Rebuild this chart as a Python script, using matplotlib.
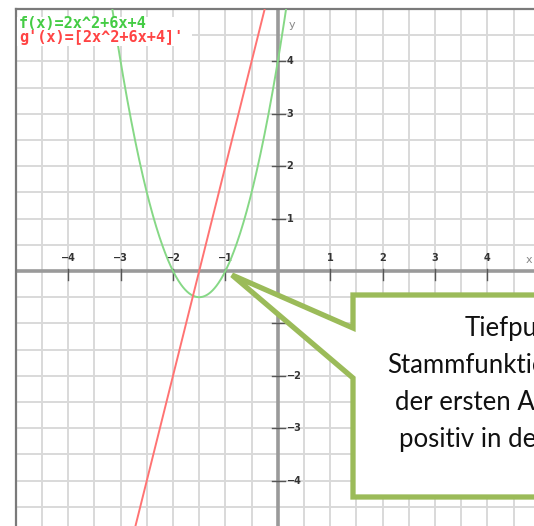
import numpy as np
import matplotlib
matplotlib.use("Agg")
import matplotlib.pyplot as plt
from matplotlib.patches import Polygon, Rectangle

# Function f(x) = 2x^2 + 6x + 4 and its derivative g(x) = 4x + 6
f_coeffs = [2, 6, 4]
g_coeffs = [4, 6]
f_label = "f(x)=2x^2+6x+4"
g_label = "g'(x)=[2x^2+6x+4]'"
x_ticks = [-4, -3, -2, -1, 1, 2, 3, 4]
y_ticks = [-4, -3, -2, -1, 1, 2, 3, 4]
callout_lines = ["Tiefpunkt", "Stammfunktion", "der ersten Ableitung", "positiv in der"]

W, H = 534, 526
fig = plt.figure(figsize=(W / 100, H / 100), dpi=100)
fig.patch.set_facecolor("white")

def fx(px):
    return px / W

def fy(py):
    return 1 - py / H

left_px, top_px = 15.8, 9.0
ax = fig.add_axes([fx(left_px), 0, 1 - fx(left_px), 1 - top_px / H])
unit = 52.4
xmin, ymax = -5.0, 5.0
ax.set_xlim(xmin, xmin + (W - left_px) / unit)
ax.set_ylim(ymax - (H - top_px) / unit, ymax)

# grid every half unit
for v in np.arange(-5, 5.01, 0.5):
    ax.axvline(v, color="#d9d9d9", lw=1.4, zorder=0)
    ax.axhline(v, color="#d9d9d9", lw=1.4, zorder=0)

ax.axhline(0, color="#9a9a9a", lw=2.6, zorder=1)
ax.axvline(0, color="#9a9a9a", lw=2.6, zorder=1)

for s in ["right", "bottom"]:
    ax.spines[s].set_visible(False)
for s in ["top", "left"]:
    ax.spines[s].set_color("#7a7a7a")
    ax.spines[s].set_linewidth(1.6)
ax.set_xticks([])
ax.set_yticks([])

# tick marks and labels
tick_font = dict(family="DejaVu Sans", fontsize=7, fontweight="bold", color="#333333")
for t in x_ticks:
    ax.plot([t, t], [0.03, -0.17], color="#555555", lw=1, zorder=2)
    ax.text(t, 0.25, f"{t}".replace("-", "\u2212"), ha="center", va="center", **tick_font)
for t in y_ticks:
    ax.plot([-0.11, 0.13], [t, t], color="#555555", lw=1, zorder=2)
    ax.text(0.17, t, f"{t}".replace("-", "\u2212"), ha="left", va="center", **tick_font)
ax.text(0.2, 4.7, "y", ha="left", va="center", fontsize=8, color="#888888")
ax.text(4.8, 0.21, "x", ha="center", va="center", fontsize=8, color="#888888")

# curves
xs = np.linspace(-5, 5, 800)
ax.plot(xs, np.polyval(f_coeffs, xs), color="#86d886", lw=1.4, zorder=3)
ax.plot(xs, np.polyval(g_coeffs, xs), color="#ff7373", lw=1.4, zorder=3)

# legend box
fig.patches.append(Rectangle((fx(left_px + 1), fy(46)), fx(175), 29 / H,
                             transform=fig.transFigure, facecolor="white",
                             edgecolor="none", zorder=5))
mono = dict(family="DejaVu Sans Mono", fontsize=11, fontweight="bold")
fig.text(fx(19), fy(23), f_label, color="#44cc44", ha="left", va="center", zorder=6, **mono)
fig.text(fx(19), fy(37.5), g_label, color="#ff4444", ha="left", va="center", zorder=6, **mono)

# callout
pts = [(353, 295), (545, 295), (545, 497), (353, 497), (353, 378), (232, 275), (353, 328)]
poly = Polygon([(fx(x), fy(y)) for x, y in pts], closed=True, transform=fig.transFigure,
               facecolor="white", edgecolor="#9bbb59", lw=3.8, joinstyle="miter", zorder=7)
fig.patches.append(poly)

starts = [465, 387, 395, 399]
baselines = [336, 373, 410, 447]
for s, x0, yb in zip(callout_lines, starts, baselines):
    fig.text(fx(x0), fy(yb), s, ha="left", va="baseline", family="Lato",
             fontsize=18.5, color="#111111", zorder=8)

fig.savefig("out.png", dpi=100)
